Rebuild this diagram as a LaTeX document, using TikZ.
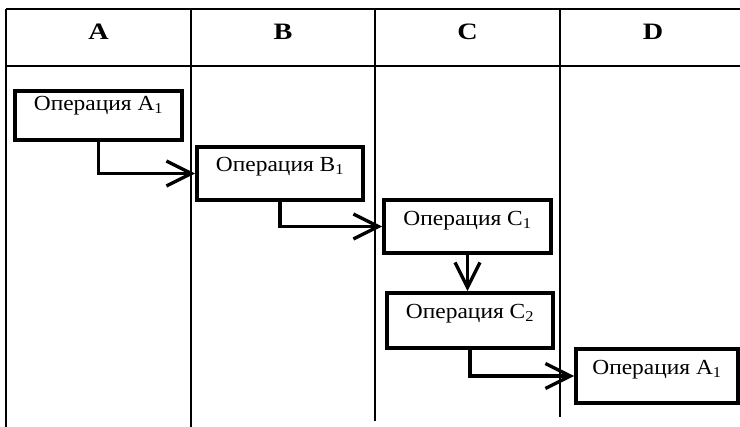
\documentclass[tikz,border=0pt]{standalone}
\usepackage{fontspec}
\setmainfont{Liberation Serif}[FakeStretch=1.09]
\newfontfamily\headfont{Liberation Serif}[FakeStretch=1.2]
\usetikzlibrary{arrows.meta,calc}
\begin{document}
\begin{tikzpicture}[x=1pt,y=-1pt,
  rule/.style={line width=1.9pt},
  head/.style={font=\headfont\fontsize{23.5}{24}\selectfont\bfseries, anchor=base, inner sep=0pt},
  opbox/.style={draw, line width=3.6pt, inner sep=0pt},
  optext/.style={font=\fontsize{21.5}{22}\selectfont, anchor=base, inner sep=0pt},
  conn/.style={line width=3.4pt, -{Straight Barb[length=25pt,width=25pt]}}
]
\useasboundingbox (0,0) rectangle (740,427);

% lanes of the table
\draw[line width=2.8pt] (6,9) -- (740,9);
\draw[rule] (6,66) -- (740,66);
\draw[rule] (6,9) -- (6,427);
\draw[rule] (191,9) -- (191,427);
\draw[rule] (375,9) -- (375,421);
\draw[rule] (560,9) -- (560,417);

% lane headings
\node[head] (hA) at (98.5,39.5) {A};
\node[head] (hB) at (283,39.5) {B};
\node[head] (hC) at (467.5,39.5) {C};
\node[head] (hD) at (653,39.5) {D};

% operations
\node[opbox, minimum width=167pt, minimum height=49pt] (a1) at (98.5,115.5) {};
\node[opbox, minimum width=166pt, minimum height=53pt] (b1) at (280,173.5) {};
\node[opbox, minimum width=167pt, minimum height=53pt] (c1) at (467.5,226.5) {};
\node[opbox, minimum width=166pt, minimum height=55pt] (c2) at (470,320.5) {};
\node[opbox, minimum width=162pt, minimum height=54pt] (d1) at (657,376) {};

\node[optext] (a1t) at ($(a1.north)+(0,21.5)$) {Операция A\textsubscript{1}};
\node[optext] (b1t) at ($(b1.north)+(0,26.5)$) {Операция B\textsubscript{1}};
\node[optext] (c1t) at ($(c1.north)+(0,27)$) {Операция C\textsubscript{1}};
\node[optext] (c2t) at ($(c2.north)+(0,27)$) {Операция C\textsubscript{2}};
\node[optext] (d1t) at ($(d1.north)+(0,27)$) {Операция A\textsubscript{1}};

% flow between operations
\draw[conn] (a1.south) |- (b1.west);
\draw[conn] (b1.south) |- (c1.west);
\draw[conn] (c1.south) -- (c1.south |- c2.north);
\draw[conn] (c2.south) |- (d1.west);
\end{tikzpicture}
\end{document}
